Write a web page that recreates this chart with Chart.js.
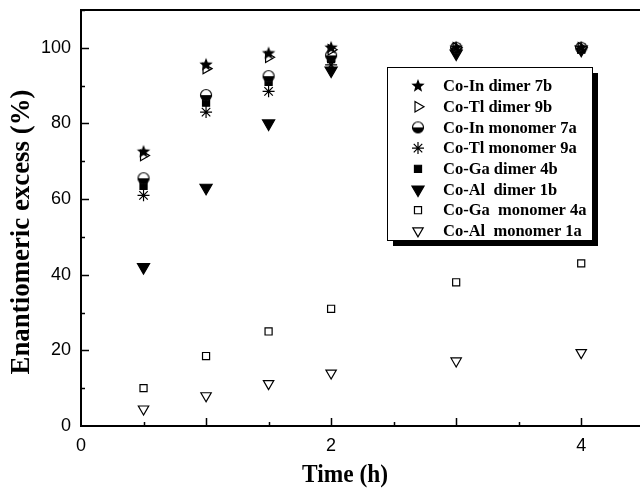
<!DOCTYPE html>
<html>
<head>
<meta charset="utf-8">
<script src="https://cdn.jsdelivr.net/npm/chart.js@4.4.0/dist/chart.umd.min.js"></script>
<style>
html, body { margin: 0; padding: 0; background: #fff; overflow: hidden; }
canvas { display: block; }
</style>
</head>
<body>
<canvas id="c" width="640" height="489"></canvas>
<script>
// time points (h)
var times = [0.5, 1, 1.5, 2, 3, 4];

// enantiomeric excess (%) per catalyst
var coInDimer7b = [72.5, 95.5, 98.5, 100, 100, 100];
var coTlDimer9b = [71.5, 94.5, 97.5, 99.5, 100, 100];
var coInMono7a  = [65.5, 87.5, 92.5, 98, 100, 100];
var coTlMono9a  = [61, 83, 88.5, 95.5, 100, 100];
var coGaDimer4b = [63.5, 85.5, 91, 97, 99.5, 99.5];
var coAlDimer1b = [42, 63, 80, 94, 98.5, 99.5];
var coGaMono4a  = [10, 18.5, 25, 31, 38, 43];
var coAlMono1a  = [4.5, 8, 11.2, 14, 17.2, 19.4];

var xTicks = [0, 2, 4];
var yTicks = [0, 20, 40, 60, 80, 100];

var serifBold = '"Liberation Serif", "Times New Roman", serif';

function pts(ys) {
	return times.map(function (t, i) { return {x: t, y: ys[i]}; });
}

// filled five point star
function makeStar(r) {
	var c = document.createElement('canvas');
	c.width = c.height = r * 2 + 2;
	var g = c.getContext('2d');
	g.fillStyle = '#000';
	g.beginPath();
	for (var i = 0; i < 10; i++) {
		var rr = i % 2 === 0 ? r : r * 0.42;
		var a = -Math.PI / 2 + i * Math.PI / 5;
		var px = r + 1 + rr * Math.cos(a), py = r + 1 + rr * Math.sin(a);
		if (i === 0) g.moveTo(px, py); else g.lineTo(px, py);
	}
	g.closePath();
	g.fill();
	return c;
}

// circle, lower half black
function makeHalfCircle(r) {
	var c = document.createElement('canvas');
	c.width = c.height = r * 2 + 3;
	var g = c.getContext('2d');
	var m = r + 1.5;
	g.fillStyle = '#fff';
	g.beginPath(); g.arc(m, m, r, 0, Math.PI * 2); g.fill();
	g.fillStyle = '#000';
	g.beginPath(); g.arc(m, m, r, 0, Math.PI); g.closePath(); g.fill();
	g.strokeStyle = '#000'; g.lineWidth = 1.2;
	g.beginPath(); g.arc(m, m, r, 0, Math.PI * 2); g.stroke();
	return c;
}

var starImg = makeStar(7);
var halfImg = makeHalfCircle(5.5);

function ds(label, data, style, radius, rot, fill) {
	return {
		label: label,
		data: pts(data),
		showLine: false,
		pointStyle: style,
		pointRadius: radius,
		pointRotation: rot,
		pointBorderWidth: 1.2,
		borderColor: '#000',
		backgroundColor: fill
	};
}

var datasets = [
	ds('Co-In dimer 7b', coInDimer7b, starImg, 7, 0, '#000'),
	ds('Co-Tl dimer 9b', coTlDimer9b, 'triangle', 6, 90, '#fff'),
	ds('Co-In monomer 7a', coInMono7a, halfImg, 6, 0, '#000'),
	ds('Co-Tl monomer 9a', coTlMono9a, 'star', 6, 0, '#000'),
	ds('Co-Ga dimer 4b', coGaDimer4b, 'rect', 5, 0, '#000'),
	ds('Co-Al  dimer 1b', coAlDimer1b, 'triangle', 7, 180, '#000'),
	ds('Co-Ga  monomer 4a', coGaMono4a, 'rect', 5, 0, '#fff'),
	ds('Co-Al  monomer 1a', coAlMono1a, 'triangle', 6, 180, '#fff')
];

// ticks pointing into the plot, top frame line, axis titles
var frameTicks = {
	id: 'frameTicks',
	afterDatasetsDraw: function (chart) {
		var ctx = chart.ctx, a = chart.chartArea;
		var xs = chart.scales.x, ys = chart.scales.y;
		ctx.save();
		ctx.strokeStyle = '#000';
		ctx.lineWidth = 1.5;
		ctx.beginPath();
		for (var v = 0.5; v <= xs.max; v += 0.5) {
			var px = Math.round(xs.getPixelForValue(v)) + 0.5;
			var len = v % 1 === 0 ? 8 : 4;
			ctx.moveTo(px, a.bottom);
			ctx.lineTo(px, a.bottom - len);
		}
		for (var w = 10; w <= ys.max; w += 10) {
			var py = Math.round(ys.getPixelForValue(w)) + 0.5;
			var l2 = w % 20 === 0 ? 8 : 4;
			ctx.moveTo(a.left, py);
			ctx.lineTo(a.left + l2, py);
		}
		ctx.stroke();
		ctx.lineWidth = 2;
		ctx.beginPath();
		ctx.moveTo(a.left, a.top);
		ctx.lineTo(a.right, a.top);
		ctx.stroke();

		ctx.fillStyle = '#000';
		ctx.textAlign = 'center';
		ctx.textBaseline = 'middle';
		ctx.font = 'bold 25px ' + serifBold;
		ctx.fillText('Time (h)', 345, 476, 86);
		ctx.translate(22, 232);
		ctx.rotate(-Math.PI / 2);
		ctx.font = 'bold 27px ' + serifBold;
		ctx.fillText('Enantiomeric excess (%)', 0, 0, 285);
		ctx.restore();
	}
};

// boxed legend with a drop shadow inside the plot
var boxLegend = {
	id: 'boxLegend',
	afterDraw: function (chart) {
		var ctx = chart.ctx;
		var L = 387, T = 67, R = 592, B = 240, sh = 6;
		ctx.save();
		ctx.fillStyle = '#000';
		ctx.fillRect(L + sh, T + sh, R - L, B - T);
		ctx.fillStyle = '#fff';
		ctx.fillRect(L, T, R - L, B - T);
		ctx.strokeStyle = '#000';
		ctx.lineWidth = 1;
		ctx.strokeRect(L + 0.5, T + 0.5, R - L, B - T);
		ctx.font = 'bold 16.5px ' + serifBold;
		ctx.textBaseline = 'middle';
		chart.data.datasets.forEach(function (d, i) {
			var y = 86 + i * 20.7;
			ctx.fillStyle = d.backgroundColor;
			ctx.strokeStyle = '#000';
			ctx.lineWidth = 1.2;
			Chart.helpers.drawPoint(ctx, {
				pointStyle: d.pointStyle,
				rotation: d.pointRotation,
				radius: d.pointRadius,
				borderWidth: 1.2
			}, 418, y);
			ctx.fillStyle = '#000';
			ctx.fillText(d.label, 443, y + 1);
		});
		ctx.restore();
	}
};

var context = document.getElementById('c').getContext('2d');
var myChart = new Chart(context, {
	type: 'scatter',
	data: { datasets: datasets },
	plugins: [frameTicks, boxLegend],
	options: {
		responsive: false,
		animation: false,
		layout: { autoPadding: false, padding: { top: 10, right: 0, left: 0, bottom: 0 } },
		plugins: {
			legend: { display: false },
			tooltip: { enabled: false }
		},
		scales: {
			x: {
				type: 'linear',
				min: 0,
				max: 4.47,
				afterFit: function (s) {
					s.height = 63;
					s.paddingLeft = 0;
					s.paddingRight = 0;
				},
				afterBuildTicks: function (s) {
					s.ticks = xTicks.map(function (v) { return {value: v}; });
				},
				grid: { display: false, drawTicks: false },
				border: { display: true, color: '#000', width: 2 },
				ticks: {
					color: '#000',
					padding: 9,
					font: { family: '"Liberation Sans", Arial, sans-serif', size: 18 },
					maxRotation: 0
				}
			},
			y: {
				min: 0,
				max: 110,
				afterFit: function (s) {
					s.width = 81;
					s.paddingTop = 0;
					s.paddingBottom = 0;
				},
				afterBuildTicks: function (s) {
					s.ticks = yTicks.map(function (v) { return {value: v}; });
				},
				grid: { display: false, drawTicks: false },
				border: { display: true, color: '#000', width: 2 },
				ticks: {
					color: '#000',
					padding: 10,
					font: { family: '"Liberation Sans", Arial, sans-serif', size: 18 }
				}
			}
		}
	}
});
</script>
</body>
</html>
